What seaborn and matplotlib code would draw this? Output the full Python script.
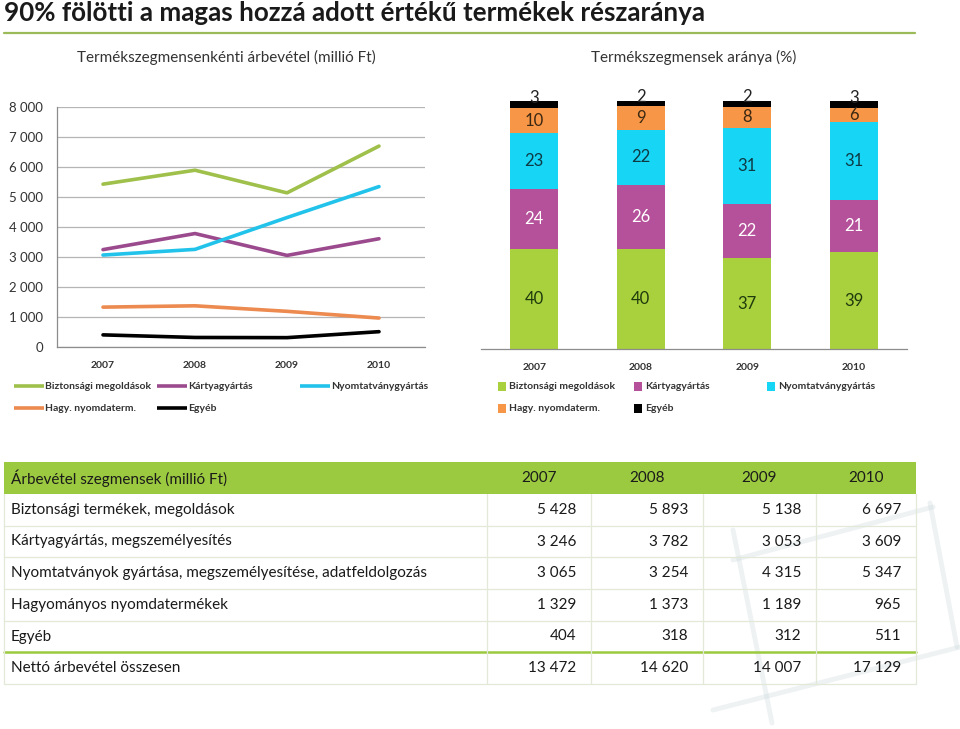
# -*- coding: utf-8 -*-
"""
Árbevétel termékszegmensenként: vonaldiagram, 100%-os halmozott oszlop és táblázat
"""

import numpy as np
import pandas as pd
import matplotlib
matplotlib.use('Agg')
import matplotlib.pyplot as plt
import seaborn as sns
from matplotlib.patches import Rectangle

sns.set_theme(style='white')
plt.rcParams['font.family'] = ['Lato', 'DejaVu Sans']
plt.rcParams['axes.unicode_minus'] = False

# Adatok
years = ['2007', '2008', '2009', '2010']
segments = ['Biztonsági megoldások', 'Kártyagyártás', 'Nyomtatványgyártás',
            'Hagy. nyomdaterm.', 'Egyéb']
table_rows = ['Biztonsági termékek, megoldások',
              'Kártyagyártás, megszemélyesítés',
              'Nyomtatványok gyártása, megszemélyesítése, adatfeldolgozás',
              'Hagyományos nyomdatermékek',
              'Egyéb']
biztonsagi = [5428, 5893, 5138, 6697]
kartya = [3246, 3782, 3053, 3609]
nyomtatvany = [3065, 3254, 4315, 5347]
hagyomanyos = [1329, 1373, 1189, 965]
egyeb = [404, 318, 312, 511]
osszesen = [13472, 14620, 14007, 17129]
y_ticks = [0, 1000, 2000, 3000, 4000, 5000, 6000, 7000, 8000]

series = [biztonsagi, kartya, nyomtatvany, hagyomanyos, egyeb]
line_colors = ['#9fc04b', '#9b4a8d', '#22c3ea', '#ec8a4f', '#000000']
bar_colors = ['#a9d13e', '#b5509a', '#17d6f5', '#f79646', '#000000']
label_colors = ['#1f3a0c', '#ffffff', '#0e3a45', '#3a2812', '#222222']
GREEN = '#9bc93f'
TXT = '#1a1a1a'

W, H = 960, 729


def box(x0, y0, x1, y1):
    """pixel box -> figure fraction rect"""
    return [x0 / W, 1 - y1 / H, (x1 - x0) / W, (y1 - y0) / H]


def fmt(v):
    return f'{v:,.0f}'.replace(',', ' ')


fig = plt.figure(figsize=(9.6, 7.29), dpi=100)
fig.patch.set_facecolor('white')

# ---- Vonaldiagram ----
ax1 = fig.add_axes(box(57, 107, 425, 347))
df_line = pd.DataFrame([
    {'pos': i, 'ertek': s[i], 'szegmens': segments[k]}
    for k, s in enumerate(series) for i in range(len(years))
])
sns.lineplot(data=df_line, x='pos', y='ertek', hue='szegmens',
             palette=dict(zip(segments, line_colors)), linewidth=2.6,
             legend=False, sort=False, ax=ax1)
ax1.set_xlim(-0.5, 3.5)
ax1.set_ylim(0, 8000)
ax1.set_yticks(y_ticks)
ax1.set_yticklabels([fmt(v) for v in y_ticks], fontsize=9.5, color='#333333')
ax1.set_xticks(range(len(years)))
ax1.set_xticklabels(years, fontsize=7.5, fontweight='bold', color='#333333')
ax1.set_xticks(np.arange(-0.5, 4, 1), minor=True)
ax1.tick_params(axis='x', which='major', length=0, pad=10)
ax1.tick_params(axis='x', which='minor', length=4, color='#8c8c8c', direction='out')
ax1.tick_params(axis='y', length=0, pad=10)
ax1.grid(axis='y', color='#b5b5b5', linewidth=0.9)
ax1.set_axisbelow(True)
for sp in ['top', 'right']:
    ax1.spines[sp].set_visible(False)
for sp in ['left', 'bottom']:
    ax1.spines[sp].set_color('#8c8c8c')
    ax1.spines[sp].set_linewidth(0.9)
ax1.set_xlabel('')
ax1.set_ylabel('')

# ---- 100%-os halmozott oszlop ----
ax2 = fig.add_axes(box(481, 101, 907, 349))
shares = np.array(series, dtype=float) / np.array(osszesen, dtype=float) * 100
cum = np.cumsum(shares, axis=0)
for k in range(len(segments) - 1, -1, -1):
    sns.barplot(x=years, y=cum[k], color=bar_colors[k], saturation=1,
                width=0.45, errorbar=None, ax=ax2, linewidth=0)
for k in range(len(segments)):
    for i in range(len(years)):
        base = cum[k - 1][i] if k > 0 else 0
        mid = base + shares[k][i] / 2
        off = 5 if k == len(segments) - 1 else 0
        ax2.annotate(f'{shares[k][i]:.0f}', (i, mid), xytext=(0, off),
                     textcoords='offset points', ha='center', va='center',
                     fontsize=12, color=label_colors[k])
ax2.set_xlim(-0.5, 3.5)
ax2.set_ylim(0, 100)
ax2.set_yticks([])
ax2.set_xticks(range(len(years)))
ax2.set_xticklabels(years, fontsize=7.5, fontweight='bold', color='#333333')
ax2.set_xticks(np.arange(-0.5, 4, 1), minor=True)
ax2.tick_params(axis='x', which='major', length=0, pad=10)
ax2.tick_params(axis='x', which='minor', length=4, color='#8c8c8c', direction='out')
for sp in ['top', 'right', 'left']:
    ax2.spines[sp].set_visible(False)
ax2.spines['bottom'].set_color('#8c8c8c')
ax2.spines['bottom'].set_linewidth(0.9)
ax2.set_xlabel('')
ax2.set_ylabel('')

# ---- Feliratok, jelmagyarázat, táblázat (pixel koordinátákban) ----
ov = fig.add_axes([0, 0, 1, 1], zorder=-1)
ov.set_xlim(0, W)
ov.set_ylim(H, 0)
ov.axis('off')

ov.text(4, 13, '90% fölötti a magas hozzá adott értékű termékek részaránya',
        fontsize=18.7, fontweight='bold', color=TXT, va='center', ha='left')
ov.plot([4, 915], [33, 33], color='#9bbb59', linewidth=1.6)
ov.text(226, 57, 'Termékszegmensenkénti árbevétel (millió Ft)', fontsize=11,
        color='#333333', ha='center', va='center')
ov.text(694, 57, 'Termékszegmensek aránya (%)', fontsize=11,
        color='#333333', ha='center', va='center')

# jelmagyarázatok
leg_pos = [(14, 386), (157, 386), (300, 386), (14, 408), (157, 408)]
for k, (lx, ly) in enumerate(leg_pos):
    ov.plot([lx, lx + 30], [ly, ly], color=line_colors[k], linewidth=2.6,
            solid_capstyle='butt')
    ov.text(lx + 31, ly, segments[k], fontsize=7.5, fontweight='bold',
            color='#333333', va='center', ha='left')
bar_leg_pos = [(498, 386), (634, 386), (767, 386), (498, 408), (634, 408)]
for k, (lx, ly) in enumerate(bar_leg_pos):
    ov.add_patch(Rectangle((lx, ly - 4.5), 8, 9, color=bar_colors[k], linewidth=0))
    ov.text(lx + 11, ly, segments[k], fontsize=7.5, fontweight='bold',
            color='#333333', va='center', ha='left')

# dekoratív háttérvonalak (halvány)
for (x0, y0, x1, y1) in [(713, 710, 960, 647), (733, 560, 933, 507),
                         (733, 530, 772, 723), (930, 503, 957, 647)]:
    ov.plot([x0, x1], [y0, y1], color='#c8d5da', linewidth=3.5, alpha=0.3,
            solid_capstyle='round')

# táblázat
col_edges = [4, 487, 591, 703, 816, 916]
row_edges = [462, 494, 526, 557, 589, 621, 652, 684]
ov.add_patch(Rectangle((col_edges[0], row_edges[0]), col_edges[-1] - col_edges[0],
                       row_edges[1] - row_edges[0], color=GREEN, linewidth=0))
ov.text(11, (row_edges[0] + row_edges[1]) / 2, 'Árbevétel szegmensek (millió Ft)',
        fontsize=11, color=TXT, va='center', ha='left')
for j, yr in enumerate(years):
    ov.text((col_edges[j + 1] + col_edges[j + 2]) / 2, (row_edges[0] + row_edges[1]) / 2,
            yr, fontsize=11, color=TXT, va='center', ha='center')

all_rows = table_rows + ['Nettó árbevétel összesen']
all_vals = series + [osszesen]
for r, (name, vals) in enumerate(zip(all_rows, all_vals)):
    yc = (row_edges[r + 1] + row_edges[r + 2]) / 2
    ov.text(11, yc, name, fontsize=11, color=TXT, va='center', ha='left')
    for j, v in enumerate(vals):
        ov.text(col_edges[j + 2] - 15, yc, fmt(v), fontsize=11, color=TXT,
                va='center', ha='right')

for y in row_edges[2:]:
    if y == 652:
        ov.plot([col_edges[0], col_edges[-1]], [y, y], color='#9bc93f', linewidth=1.8)
    else:
        ov.plot([col_edges[0], col_edges[-1]], [y, y], color='#e3e9d8', linewidth=0.9)
for x in col_edges:
    ov.plot([x, x], [row_edges[1], row_edges[-1]], color='#e3e9d8', linewidth=0.9)

fig.savefig('out.png', dpi=100)
